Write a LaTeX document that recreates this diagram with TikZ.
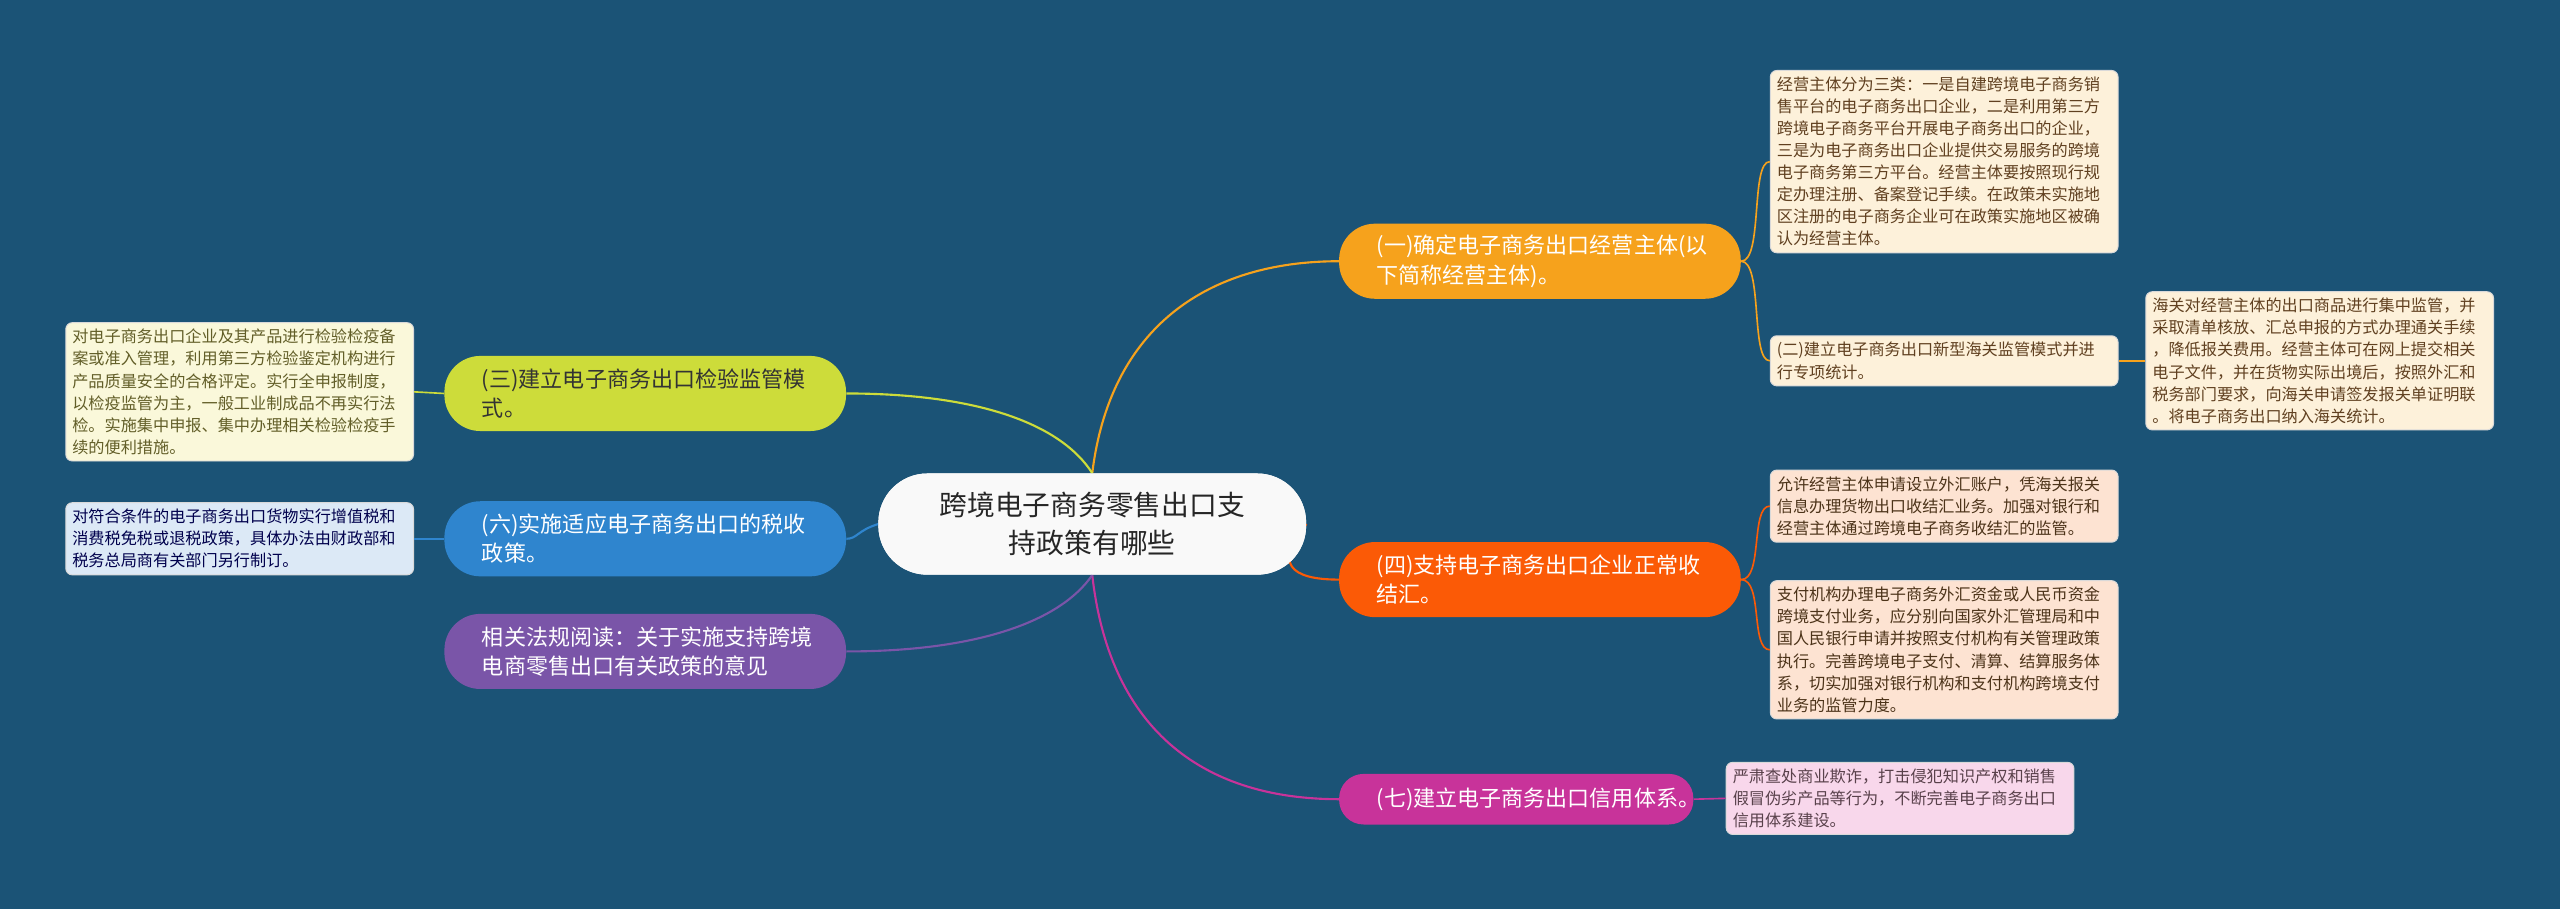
\documentclass[tikz,border=0pt]{standalone}
\usepackage{fontspec}
\setmainfont{Noto Sans CJK SC}
\definecolor{bg}{HTML}{1B5376}
\definecolor{cOr}{HTML}{F6A21C}
\definecolor{cRd}{HTML}{FB5A06}
\definecolor{cMg}{HTML}{C8339A}
\definecolor{cYg}{HTML}{CDDC3A}
\definecolor{cBl}{HTML}{2F85CE}
\definecolor{cPu}{HTML}{7A55A8}
\definecolor{lOr}{HTML}{FDF1DA}
\definecolor{lRd}{HTML}{FDE3D2}
\definecolor{lMg}{HTML}{F8D7EB}
\definecolor{lYg}{HTML}{FAF8DA}
\definecolor{lBl}{HTML}{DCE9F6}
\tikzset{
  center/.style={draw=none,fill=white!95!gray,rounded corners=30pt,minimum width=262pt,minimum height=62pt,align=center,font=\fontsize{17}{23}\selectfont,text=black!85},
  branch/.style={rounded corners=22pt,minimum height=46pt,text width=200pt,inner xsep=23pt,align=left,anchor=west,font=\fontsize{13.5}{18}\selectfont},
  leaf/.style={rounded corners=4pt,text width=205pt,inner xsep=4pt,inner ysep=4pt,align=left,anchor=west,font=\fontsize{9.9}{13.5}\selectfont,draw=white!70!gray,line width=0.6pt},
  con/.style={line width=1.3pt}
}
\begin{document}
\begin{tikzpicture}[x=1pt,y=-1pt]
\fill[bg] (0,0) rectangle (1568,557);
\useasboundingbox (0,0) rectangle (1568,557);
\node[center] (c) at (669,321) {跨境电子商务零售出口支\\持政策有哪些};
% right branches
\node[branch,fill=cOr,text=white] (b1) at (820,160) {(一)确定电子商务出口经营主体(以\\下简称经营主体)。};
\node[branch,fill=cRd,text=white] (b4) at (820,355) {(四)支持电子商务出口企业正常收\\结汇。};
\node[branch,fill=cMg,text=white,text width=171pt,minimum height=31pt,rounded corners=15pt] (b7) at (820,489.5) {(七)建立电子商务出口信用体系。};
% left branches
\node[branch,fill=cYg,text=black!80] (b3) at (272,241) {(三)建立电子商务出口检验监管模\\式。};
\node[branch,fill=cBl,text=white] (b6) at (272,330) {(六)实施适应电子商务出口的税收\\政策。};
\node[branch,fill=cPu,text=white] (bx) at (272,399) {相关法规阅读：关于实施支持跨境\\电商零售出口有关政策的意见};
% leaves
\node[leaf,fill=lOr,text=brown!50!black] (l1) at (1084,99) {经营主体分为三类：一是自建跨境电子商务销\\售平台的电子商务出口企业，二是利用第三方\\跨境电子商务平台开展电子商务出口的企业，\\三是为电子商务出口企业提供交易服务的跨境\\电子商务第三方平台。经营主体要按照现行规\\定办理注册、备案登记手续。在政策未实施地\\区注册的电子商务企业可在政策实施地区被确\\认为经营主体。};
\node[leaf,fill=lOr,text=brown!50!black] (l2) at (1084,221) {(二)建立电子商务出口新型海关监管模式并进\\行专项统计。};
\node[leaf,fill=lOr,text=brown!50!black] (l3) at (1314,221) {海关对经营主体的出口商品进行集中监管，并\\采取清单核放、汇总申报的方式办理通关手续\\，降低报关费用。经营主体可在网上提交相关\\电子文件，并在货物实际出境后，按照外汇和\\税务部门要求，向海关申请签发报关单证明联\\。将电子商务出口纳入海关统计。};
\node[leaf,fill=lRd,text=brown!40!black] (l4) at (1084,310) {允许经营主体申请设立外汇账户，凭海关报关\\信息办理货物出口收结汇业务。加强对银行和\\经营主体通过跨境电子商务收结汇的监管。};
\node[leaf,fill=lRd,text=brown!40!black] (l5) at (1084,398) {支付机构办理电子商务外汇资金或人民币资金\\跨境支付业务，应分别向国家外汇管理局和中\\国人民银行申请并按照支付机构有关管理政策\\执行。完善跨境电子支付、清算、结算服务体\\系，切实加强对银行机构和支付机构跨境支付\\业务的监管力度。};
\node[leaf,fill=lMg,text=black!75!magenta] (l7) at (1057,489) {严肃查处商业欺诈，打击侵犯知识产权和销售\\假冒伪劣产品等行为，不断完善电子商务出口\\信用体系建设。};
\node[leaf,fill=lYg,text=olive!60!black] (l3a) at (40,240) {对电子商务出口企业及其产品进行检验检疫备\\案或准入管理，利用第三方检验鉴定机构进行\\产品质量安全的合格评定。实行全申报制度，\\以检疫监管为主，一般工业制成品不再实行法\\检。实施集中申报、集中办理相关检验检疫手\\续的便利措施。};
\node[leaf,fill=lBl,text=blue!30!black] (l6a) at (40,330) {对符合条件的电子商务出口货物实行增值税和\\消费税免税或退税政策，具体办法由财政部和\\税务总局商有关部门另行制订。};
% connectors center -> branches
\coordinate (cs) at (669,321);
\begin{scope}[on background layer/.style={}]
\end{scope}
\draw[con,cOr] (c.north) .. controls (680,200) and (740,160) .. (b1.west);
\draw[con,cRd] (c.east) .. controls (780,345) and (790,355) .. (b4.west);
\draw[con,cMg] (c.south) .. controls (680,450) and (740,489.5) .. (b7.west);
\draw[con,cYg] (c.north) .. controls (650,260) and (600,241) .. (b3.east);
\draw[con,cBl] (c.west) .. controls (525,325) and (525,330) .. (b6.east);
\draw[con,cPu] (c.south) .. controls (650,380) and (600,399) .. (bx.east);
% branch -> leaves
\draw[con,cOr,line width=1pt] (b1.east) .. controls (1080,160) and (1072,99) .. (l1.west);
\draw[con,cOr,line width=1pt] (b1.east) .. controls (1080,160) and (1072,221) .. (l2.west);
\draw[con,cOr,line width=1pt] (l2.east) -- (l3.west);
\draw[con,cRd,line width=1pt] (b4.east) .. controls (1080,355) and (1072,310) .. (l4.west);
\draw[con,cRd,line width=1pt] (b4.east) .. controls (1080,355) and (1072,398) .. (l5.west);
\draw[con,cMg,line width=1pt] (b7.east) -- (l7.west);
\draw[con,cYg,line width=1pt] (b3.west) -- (l3a.east);
\draw[con,cBl,line width=1pt] (b6.west) -- (l6a.east);
% redraw nodes on top of connectors
\node[center] at (c) {跨境电子商务零售出口支\\持政策有哪些};
\end{tikzpicture}
\end{document}
